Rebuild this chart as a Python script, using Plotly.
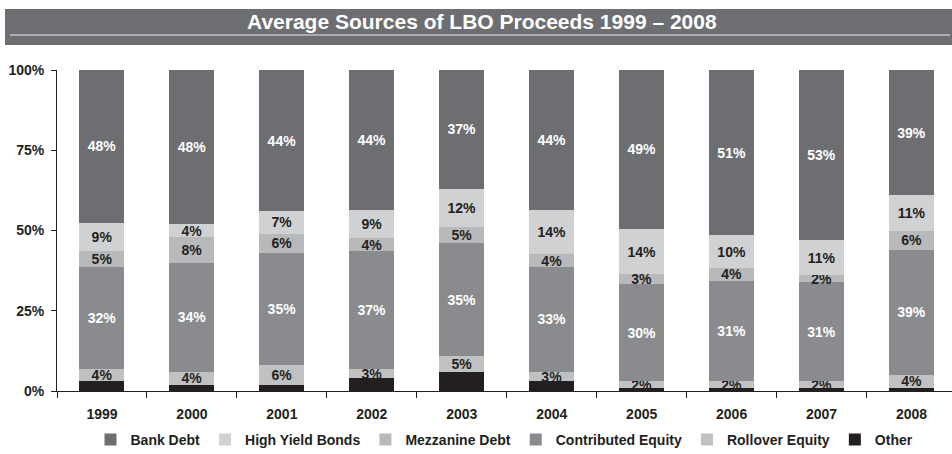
import plotly.graph_objects as go

years = ["1999", "2000", "2001", "2002", "2003", "2004", "2005", "2006", "2007", "2008"]
bank_debt = [48, 48, 44, 44, 37, 44, 49, 51, 53, 39]
high_yield = [9, 4, 7, 9, 12, 14, 14, 10, 11, 11]
mezzanine = [5, 8, 6, 4, 5, 4, 3, 4, 2, 6]
contributed = [32, 34, 35, 37, 35, 33, 30, 31, 31, 39]
rollover = [4, 4, 6, 3, 5, 3, 2, 2, 2, 4]
other = [3, 2, 2, 4, 6, 3, 1, 1, 1, 1]
y_ticks = [0, 25, 50, 75, 100]
y_tick_labels = ["0%", "25%", "50%", "75%", "100%"]

FONT = "Liberation Sans, Arial, sans-serif"

series = [
    ("Other", other, "#231f20", None, None),
    ("Rollover Equity", rollover, "#c0c1c3", True, "#231f20"),
    ("Contributed Equity", contributed, "#8a8b8e", True, "#ffffff"),
    ("Mezzanine Debt", mezzanine, "#b8b9bb", True, "#231f20"),
    ("High Yield Bonds", high_yield, "#d0d1d3", True, "#231f20"),
    ("Bank Debt", bank_debt, "#6d6e71", True, "#ffffff"),
]

fig = go.Figure()
for name, vals, color, lab, tcol in series:
    if lab:
        kw = dict(
            text=[f"<b>{v}%</b>" for v in vals],
            textposition="inside",
            insidetextanchor="middle",
            textangle=0,
            textfont=dict(family=FONT, size=14, color=tcol),
            cliponaxis=False,
        )
    else:
        kw = dict(textposition="none")
    fig.add_trace(go.Bar(
        name=name, x=years, y=vals,
        marker=dict(color=color, line=dict(width=0)),
        width=0.5, hoverinfo="skip", **kw,
    ))

fig.update_layout(
    barmode="stack", barnorm="percent",
    width=952, height=454,
    margin=dict(l=57, r=0, t=70, b=63),
    paper_bgcolor="white", plot_bgcolor="white",
    font=dict(family=FONT, size=14, color="#231f20"),
    uniformtext=dict(mode="show", minsize=14),
    showlegend=True,
    legend=dict(
        orientation="h", traceorder="reversed",
        x=0.5, xanchor="center", yref="container", y=1 - 440 / 454, yanchor="middle",
        font=dict(family=FONT, size=14, color="#231f20", weight="bold"),
        itemwidth=30,
    ),
    shapes=[
        dict(type="rect", xref="paper", yref="paper",
             x0=-52 / 895, x1=1.0, y0=1 + (70 - 45) / 321, y1=1 + (70 - 9) / 321,
             fillcolor="#6d6e71", line=dict(width=0), layer="below"),
        dict(type="line", xref="paper", yref="paper",
             x0=-47 / 895, x1=(950 - 57) / 895, y0=1 + (70 - 35) / 321, y1=1 + (70 - 35) / 321,
             line=dict(color="#e8e8e8", width=1.2)),
    ],
    annotations=[
        dict(text="<b>Average Sources of LBO Proceeds 1999 \u2013 2008</b>",
             xref="paper", yref="paper", x=(482 - 57) / 895, y=1 + (70 - 22) / 321,
             xanchor="center", yanchor="middle", showarrow=False,
             font=dict(family=FONT, size=21, color="white")),
    ],
)

fig.update_xaxes(
    type="category", range=[-0.5, 9.45],
    showline=True, linecolor="#231f20", linewidth=1,
    ticks="outside", tickson="boundaries", ticklen=6, tickcolor="#231f20",
    ticklabelstandoff=10,
    tickfont=dict(family=FONT, size=14, color="#231f20", weight="bold"),
    showgrid=False, zeroline=False,
)
fig.update_yaxes(
    range=[0, 100], tickvals=y_ticks, ticktext=y_tick_labels,
    showline=True, linecolor="#231f20", linewidth=1,
    ticks="outside", ticklen=5, tickcolor="#231f20",
    ticklabelstandoff=4,
    tickfont=dict(family=FONT, size=14, color="#231f20", weight="bold"),
    showgrid=False, zeroline=False,
)

fig.write_html("out.html", config={"displayModeBar": False},
               post_script="document.body.style.margin='0';")
